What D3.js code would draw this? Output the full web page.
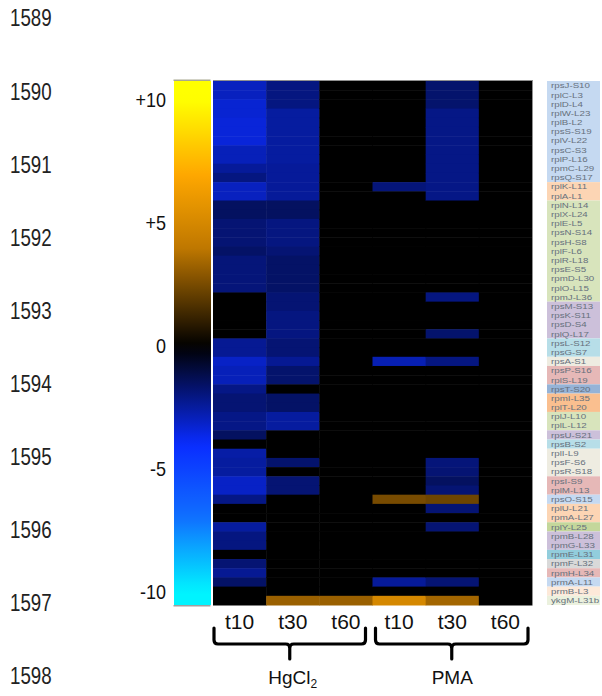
<!DOCTYPE html>
<html>
<head>
<meta charset="utf-8">
<script src="https://cdn.jsdelivr.net/npm/d3@7"></script>
<style>
  body { margin: 0; background: #fff; }
  text { font-family: "Liberation Sans", Arial, sans-serif; }
</style>
</head>
<body>
<div id="chart"></div>
<script>
// gene rows (top to bottom)
const genes = [
  "rpsJ-S10","rplC-L3","rplD-L4","rplW-L23","rplB-L2","rpsS-S19","rplV-L22","rpsC-S3","rplP-L16",
  "rpmC-L29","rpsQ-S17","rplK-L11","rplA-L1","rplN-L14","rplX-L24","rplE-L5","rpsN-S14","rpsH-S8",
  "rplF-L6","rplR-L18","rpsE-S5","rpmD-L30","rplO-L15","rpmJ-L36","rpsM-S13","rpsK-S11","rpsD-S4",
  "rplQ-L17","rpsL-S12","rpsG-S7","rpsA-S1","rpsP-S16","rplS-L19","rpsT-S20","rpmI-L35","rplT-L20",
  "rplJ-L10","rplL-L12","rpsU-S21","rpsB-S2","rplI-L9","rpsF-S6","rpsR-S18","rpsI-S9","rplM-L13",
  "rpsO-S15","rplU-L21","rpmA-L27","rplY-L25","rpmB-L28","rpmG-L33","rpmE-L31","rpmF-L32","rpmH-L34",
  "prmA-L11","prmB-L3","ykgM-L31b"
];

// operon colour runs for the label column: [number of rows, colour]
const geneGroups = [
  [11, "#c5d9f1"], [2, "#fcd5b4"], [11, "#d8e4bc"], [4, "#ccc0da"], [2, "#b7dee8"], [1, "#eeece1"],
  [2, "#e6b8b7"], [1, "#95b3d7"], [2, "#fabf8f"], [2, "#d8e4bc"], [1, "#ccc0da"], [1, "#b7dee8"],
  [3, "#eeece1"], [2, "#e6b8b7"], [1, "#c5d9f1"], [2, "#fcd5b4"], [1, "#c4d79b"], [2, "#ccc0da"],
  [1, "#92cddc"], [1, "#d9d9d9"], [1, "#e6b8b7"], [1, "#c5d9f1"], [1, "#fde9d9"], [1, "#ebf1de"]
];

const timepoints = ["t10", "t30", "t60"];
const treatments = ["HgCl2", "PMA"];

// log2 fold change per gene, one array per condition
const hgT10 = [
  -3.0,-3.0,-3.3,-3.3,-3.4,-3.4,-3.4,-2.9,-2.9,-2.4,-2.0,-3.0,-3.0,-1.5,-1.5,-1.8,-1.8,-1.8,-1.6,
  -1.9,-1.9,-1.9,-1.9,0,0,0,0,0,-2.3,-2.3,-3.1,-2.9,-2.9,-2.1,-1.8,-1.8,-2.1,-2.1,-1.5,0,
  -2.6,-2.5,-2.5,-3.1,-3.1,-2.1,0,0,-2.5,-2.0,-2.0,0,-1.8,-2.3,-1.6,0,0
];
const hgT30 = [
  -2.0,-2.0,-2.0,-2.5,-2.5,-2.5,-2.5,-2.5,-2.5,-2.4,-2.4,-2.4,-2.4,-1.5,-1.5,-2.0,-2.0,-2.0,-1.8,
  -1.6,-1.6,-1.6,-1.6,-1.8,-1.8,-2.0,-2.0,-2.0,-1.8,-1.8,-2.3,-1.7,-1.7,0,-1.6,-1.6,-2.5,-2.5,0,0,
  0,-1.7,0,-1.8,-1.8,0,0,0,0,0,0,0,0,0,0,0,3.2
];
const hgT60 = [
  0,0,0,0,0,0,0,0,0,0,0,0,0,0,0,0,0,0,0,
  0,0,0,0,0,0,0,0,0,0,0,0,0,0,0,0,0,0,0,0,0,
  0,0,0,0,0,0,0,0,0,0,0,0,0,0,0,0,3.2
];
const pmaT10 = [
  0,0,0,0,0,0,0,0,0,0,0,-1.9,0,0,0,0,0,0,0,
  0,0,0,0,0,0,0,0,0,0,0,-2.8,0,0,0,0,0,0,0,0,0,
  0,0,0,0,0,2.5,0,0,0,0,0,0,0,0,-2.4,0,5.0
];
const pmaT30 = [
  -1.7,-1.7,-1.7,-2.1,-2.1,-2.1,-2.1,-2.1,-2.1,-2.1,-2.1,-2.1,-2.1,0,0,0,0,0,0,
  0,0,0,0,-2.0,0,0,0,-1.7,0,0,-2.0,0,0,0,0,0,0,0,0,0,
  0,-1.9,-1.8,-1.5,-1.8,2.3,-1.8,0,-1.8,0,0,0,0,0,-1.8,0,3.4
];
const pmaT60 = [
  0,0,0,0,0,0,0,0,0,0,0,0,0,0,0,0,0,0,0,
  0,0,0,0,0,0,0,0,0,0,0,0,0,0,0,0,0,0,0,0,0,
  0,0,0,0,0,0,0,0,0,0,0,0,0,0,0,0,0
];

const colorbarTicks = [10, 5, 0, -5, -10];
const tickLabels = ["+10", "+5", "0", "-5", "-10"];
// spreadsheet row numbers visible down the left edge
const sheetRows = [1589, 1590, 1591, 1592, 1593, 1594, 1595, 1596, 1597, 1598];

const width = 602, height = 696;
const conditions = [hgT10, hgT30, hgT60, pmaT10, pmaT30, pmaT60];

const svg = d3.select("#chart").append("svg")
  .attr("width", width)
  .attr("height", height);

// heat colours: cyan-blue-black-orange-yellow
const color = d3.scaleLinear()
  .domain([-10, -7, -4, 0, 4, 7, 10])
  .range(["#00f4ff", "#1070ff", "#0a2cff", "#000000", "#c07800", "#ffa800", "#ffff00"])
  .clamp(true);

const x = d3.scaleBand()
  .domain(d3.range(conditions.length))
  .range([213, 532]);

const y = d3.scaleBand()
  .domain(genes)
  .range([81, 605]);

// spreadsheet row numbers (narrow face in the original)
const rowY = d3.scaleLinear().domain([1589, 1598]).range([18, 676]);
svg.append("g").selectAll("text")
  .data(sheetRows)
  .enter().append("text")
    .attr("transform", d => `translate(10,${rowY(d)}) scale(0.78,1)`)
    .attr("dy", "0.35em")
    .attr("font-size", 24)
    .attr("fill", "#222")
    .text(d => d);

// colour bar
const cb = d3.scaleLinear().domain([10, -10]).range([100, 592]);
const defs = svg.append("defs");
const grad = defs.append("linearGradient")
  .attr("id", "cbar")
  .attr("x1", 0).attr("y1", 0).attr("x2", 0).attr("y2", 1);
const cbTop = 81, cbBottom = 605;
d3.range(0, 1.0001, 0.02).forEach(t => {
  const v = cb.invert(cbTop + t * (cbBottom - cbTop));
  grad.append("stop").attr("offset", t).attr("stop-color", color(v));
});
svg.append("rect")
  .attr("x", 174).attr("y", cbTop)
  .attr("width", 37).attr("height", cbBottom - cbTop)
  .attr("fill", "url(#cbar)");
svg.append("rect")
  .attr("x", 173.5).attr("y", cbTop - 1.5)
  .attr("width", 37).attr("height", 1.5)
  .attr("fill", "#a8a890");
svg.append("rect")
  .attr("x", 173.5).attr("y", cbBottom)
  .attr("width", 37).attr("height", 1.5)
  .attr("fill", "#a0a0a0");

svg.append("g").selectAll("text")
  .data(colorbarTicks)
  .enter().append("text")
    .attr("transform", d => `translate(166,${cb(d)}) scale(0.9,1)`)
    .attr("dy", "0.35em")
    .attr("text-anchor", "end")
    .attr("font-size", 20)
    .attr("fill", "#111")
    .text((d, i) => tickLabels[i]);

// heat map cells
const cells = [];
conditions.forEach((col, c) => col.forEach((v, r) => cells.push({c, gene: genes[r], v})));
svg.append("g").selectAll("rect")
  .data(cells)
  .enter().append("rect")
    .attr("x", d => x(d.c))
    .attr("y", d => y(d.gene))
    .attr("width", x.bandwidth() + 0.5)
    .attr("height", y.bandwidth() + 0.5)
    .attr("fill", d => color(d.v));

svg.append("line")
  .attr("x1", 213).attr("x2", 532).attr("y1", 80.5).attr("y2", 80.5)
  .attr("stroke", "#909090");
svg.append("line")
  .attr("x1", 532.5).attr("x2", 532.5).attr("y1", 80).attr("y2", 605)
  .attr("stroke", "#909090");

// gene labels with operon colours
let start = 0;
const bands = geneGroups.map(([n, fill]) => {
  const b = {from: genes[start], to: genes[start + n - 1], fill};
  start += n;
  return b;
});
svg.append("g").selectAll("rect")
  .data(bands)
  .enter().append("rect")
    .attr("x", 547)
    .attr("y", d => y(d.from))
    .attr("width", 53)
    .attr("height", d => y(d.to) + y.bandwidth() - y(d.from))
    .attr("fill", d => d.fill);

svg.append("g").selectAll("text")
  .data(genes)
  .enter().append("text")
    .attr("transform", d => `translate(551,${y(d) + y.bandwidth() / 2}) scale(1.25,1)`)
    .attr("dy", "0.35em")
    .attr("font-size", 7.8)
    .attr("fill", "#66707c")
    .text(d => d);

// time point labels
svg.append("g").selectAll("text")
  .data(d3.range(conditions.length))
  .enter().append("text")
    .attr("x", d => x(d) + x.bandwidth() / 2)
    .attr("y", 622)
    .attr("dy", "0.35em")
    .attr("text-anchor", "middle")
    .attr("font-size", 21)
    .attr("fill", "#111")
    .text(d => timepoints[d % 3]);

// braces under each treatment
const brace = (x0, x1, top, mid, tip) => {
  const xm = (x0 + x1) / 2, r = 4;
  return `M${x0},${top} L${x0},${mid - r} Q${x0},${mid} ${x0 + r},${mid}` +
    ` L${xm - r},${mid} Q${xm},${mid} ${xm},${mid + r} L${xm},${tip}` +
    ` M${xm},${mid + r} Q${xm},${mid} ${xm + r},${mid} L${x1 - r},${mid}` +
    ` Q${x1},${mid} ${x1},${mid - r} L${x1},${top}`;
};
const groups = svg.append("g").selectAll("g")
  .data(treatments)
  .enter().append("g");
groups.append("path")
  .attr("d", (d, i) => {
    const x0 = x(i * 3) + (i ? 3 : 1);
    const x1 = x(i * 3 + 2) + x.bandwidth() - (i ? 4 : 7);
    return brace(x0, x1, 628, 644, 659);
  })
  .attr("fill", "none")
  .attr("stroke", "#000")
  .attr("stroke-width", 3.2)
  .attr("stroke-linecap", "round");

const labels = groups.append("text")
  .attr("x", (d, i) => (x(i * 3) + x(i * 3 + 2) + x.bandwidth()) / 2)
  .attr("y", 684)
  .attr("text-anchor", "middle")
  .attr("font-size", 19)
  .attr("fill", "#111");
labels.append("tspan").text(d => d === "HgCl2" ? "HgCl" : d);
labels.filter(d => d === "HgCl2").append("tspan")
  .attr("font-size", 12)
  .attr("dy", 4)
  .text("2");
</script>
</body>
</html>
